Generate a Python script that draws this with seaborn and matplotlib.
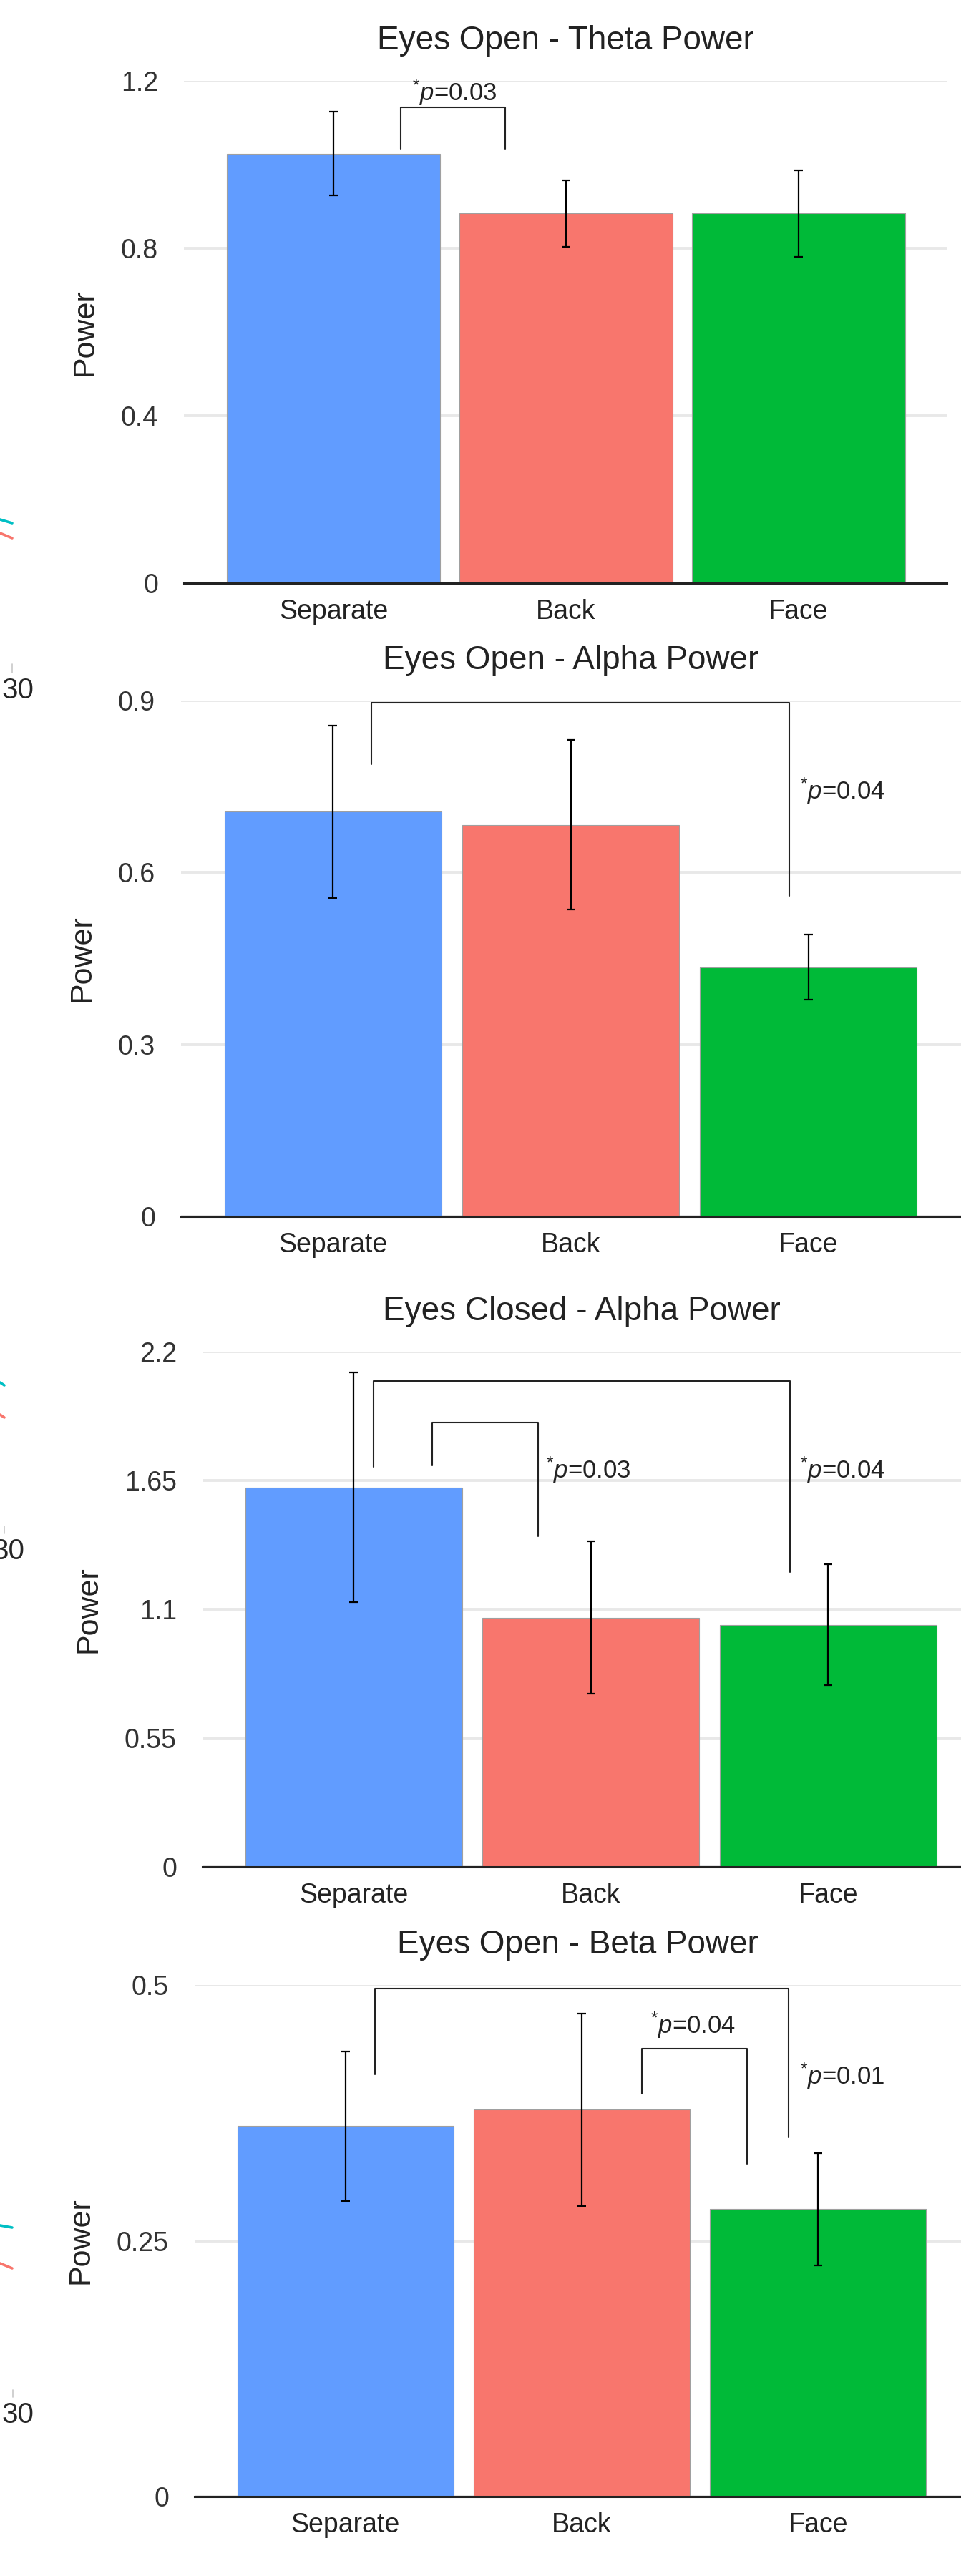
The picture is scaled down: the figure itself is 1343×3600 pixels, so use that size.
import matplotlib
matplotlib.use("Agg")
import matplotlib.pyplot as plt
from matplotlib.lines import Line2D
import seaborn as sns
import pandas as pd

sns.set_style("white")
plt.rcParams["font.family"] = ["Liberation Sans", "DejaVu Sans"]
plt.rcParams["mathtext.fontset"] = "custom"
plt.rcParams["mathtext.rm"] = "Liberation Sans"
plt.rcParams["mathtext.it"] = "Liberation Sans:italic"

# data
categories = ["Separate", "Back", "Face"]
bar_colors = ["#619CFF", "#F8766D", "#00BA38"]

theta_open = [1.026, 0.883, 0.883]
theta_open_err = [0.10, 0.079, 0.103]
alpha_open = [0.706, 0.683, 0.435]
alpha_open_err = [0.150, 0.148, 0.057]
alpha_closed = [1.620, 1.064, 1.033]
alpha_closed_err = [0.490, 0.325, 0.258]
beta_open = [0.362, 0.378, 0.281]
beta_open_err = [0.073, 0.094, 0.055]

titles = ["Eyes Open - Theta Power", "Eyes Open - Alpha Power",
          "Eyes Closed - Alpha Power", "Eyes Open - Beta Power"]
yticks = [[0, 0.4, 0.8, 1.2], [0, 0.3, 0.6, 0.9],
          [0, 0.55, 1.1, 1.65, 2.2], [0, 0.25, 0.5]]
ytick_labels = [["0", "0.4", "0.8", "1.2"], ["0", "0.3", "0.6", "0.9"],
                ["0", "0.55", "1.1", "1.65", "2.2"], ["0", "0.25", "0.5"]]

# significance brackets: x left, x right, y top, y left end, y right end
brackets = [
    [(0.29, 0.74, 1.137, 1.037, 1.037)],
    [(0.16, 1.92, 0.896, 0.789, 0.559)],
    [(0.084, 1.84, 2.074, 1.709, 1.26), (0.33, 0.779, 1.897, 1.714, 1.411)],
    [(0.125, 1.874, 0.4966, 0.4123, 0.3513), (1.254, 1.70, 0.4377, 0.394, 0.325)],
]
# p-value labels: text, x, y, alignment
p_labels = [
    [("0.03", 0.52, 1.172, "center")],
    [("0.04", 1.965, 0.742, "left")],
    [("0.03", 0.81, 1.695, "left"), ("0.04", 1.882, 1.695, "left")],
    [("0.04", 1.47, 0.461, "center"), ("0.01", 1.924, 0.411, "left")],
]

panels = [(theta_open, theta_open_err), (alpha_open, alpha_open_err),
          (alpha_closed, alpha_closed_err), (beta_open, beta_open_err)]

W, H = 1343, 3600
# axes boxes in pixels: left, right, top, bottom (right side is cropped in the source)
boxes = [(257, 1323, 113, 815), (253, 1343, 979, 1700),
         (283, 1343, 1889, 2609), (272, 1343, 2774, 3489)]
xlims = [(-0.643, 2.637), (-0.64, 2.643), (-0.637, 2.56), (-0.638, 2.605)]

fig = plt.figure(figsize=(W / 100, H / 100), dpi=100)

for i, (vals, errs) in enumerate(panels):
    l, r, t, b = boxes[i]
    ax = fig.add_axes([l / W, 1 - b / H, (r - l) / W, (b - t) / H])
    df = pd.DataFrame({"group": categories, "power": vals})
    sns.barplot(data=df, x="group", y="power", hue="group", palette=bar_colors,
                width=0.915, saturation=1, edgecolor="#a0a0a0", linewidth=0.8,
                legend=False, ax=ax, zorder=2)
    ax.errorbar(range(len(categories)), vals, yerr=errs, fmt="none",
                ecolor="black", elinewidth=1.6, capsize=4.5, capthick=1.6, zorder=3)

    ax.set_xlim(*xlims[i])
    ax.set_ylim(0, yticks[i][-1])
    ax.set_yticks(yticks[i])
    ax.set_yticklabels(ytick_labels[i])
    ax.grid(axis="y", color="#e8e8e8", linewidth=2.8, zorder=0)
    ax.set_axisbelow(True)
    for s in ["top", "right", "left"]:
        ax.spines[s].set_visible(False)
    ax.spines["bottom"].set_color("#222222")
    ax.spines["bottom"].set_linewidth(2.2)
    ax.spines["bottom"].set_zorder(4)
    ax.tick_params(axis="y", length=0, pad=26, labelsize=27, labelcolor="#333333")
    ax.tick_params(axis="x", length=0, pad=16, labelsize=27, labelcolor="#222222")
    ax.set_xlabel("")
    ax.set_ylabel("Power", fontsize=31, labelpad=22, color="#222222")
    ax.set_title(titles[i], fontsize=33, pad=32, color="#222222")

    for (x0, x1, yt, y0, y1) in brackets[i]:
        ax.plot([x0, x0, x1, x1], [y0, yt, yt, y1], color="#222222",
                linewidth=1.5, clip_on=False, zorder=5)
    for (p, x, y, ha) in p_labels[i]:
        ax.text(x, y, r"$^{*}\mathit{p}$=" + p, fontsize=25, ha=ha, va="center",
                color="#222222", clip_on=False, zorder=5)

# bits of the neighbouring chart cut off at the left edge
stray_text_pos = [(2, 965), (-11, 2168), (2, 3375)]
stray_tick_pos = [(17, 928, 940), (6, 2133, 2143), (18, 3340, 3350)]
stray_lines = [("#00BFC4", 726, 731, 17), ("#F8766D", 745, 752, 17),
               ("#00BFC4", 1932, 1936, 6), ("#F8766D", 1977, 1981, 6),
               ("#00BFC4", 3110, 3113, 17), ("#F8766D", 3163, 3170, 17)]
for x, y in stray_text_pos:
    fig.text(x / W, 1 - y / H, "30", fontsize=29, va="center", ha="left")
for x, y0, y1 in stray_tick_pos:
    fig.add_artist(Line2D([x / W, x / W], [1 - y0 / H, 1 - y1 / H],
                          color="#c8c8c8", linewidth=1.2))
for c, y0, y1, x1 in stray_lines:
    fig.add_artist(Line2D([0, x1 / W], [1 - y0 / H, 1 - y1 / H],
                          color=c, linewidth=2.6))

fig.savefig("out.png", dpi=100, facecolor="white")
